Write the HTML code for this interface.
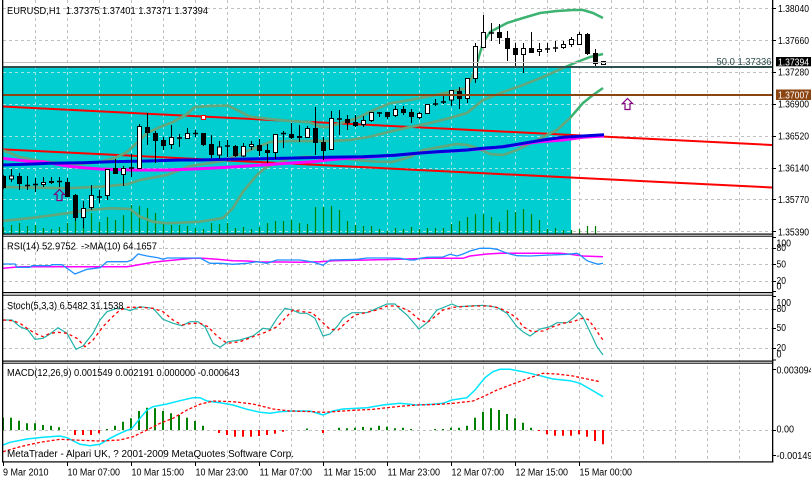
<!DOCTYPE html>
<html><head><meta charset="utf-8"><style>
html,body{margin:0;padding:0;background:#fff;}
svg{display:block;}
text{font-family:"Liberation Sans",Arial,sans-serif;font-size:10px;fill:#000;white-space:pre;}
</style></head><body>
<svg width="811" height="479" viewBox="0 0 811 479" xmlns="http://www.w3.org/2000/svg">
<defs>
<clipPath id="cm"><rect x="3" y="0" width="769" height="233.5"/></clipPath>
<clipPath id="cc"><rect x="3" y="68" width="568" height="165.5"/></clipPath>
</defs>
<rect width="811" height="479" fill="#fff"/>

<!-- vertical grid all panels -->
<path d="M35.5 0V462M67.5 0V462M99.5 0V462M131.5 0V462M163.5 0V462M195.5 0V462M227.5 0V462M259.5 0V462M291.5 0V462M323.5 0V462M355.5 0V462M387.5 0V462M419.5 0V462M451.5 0V462M483.5 0V462M515.5 0V462M547.5 0V462M579.5 0V462M611.5 0V462M643.5 0V462M675.5 0V462M707.5 0V462M739.5 0V462" stroke="#c0c0c0" stroke-dasharray="3 3" fill="none"/>
<path d="M3 8.5H772M3 40.5H772M3 72.5H772M3 104.5H772M3 136.5H772M3 168.5H772M3 199.5H772M3 231.5H772M3 248.5H772M3 264.5H772M3 281.5H772M3 309.5H772M3 328.5H772M3 348.5H772M3 430.5H772" stroke="#c0c0c0" stroke-dasharray="3 3" fill="none"/>

<g clip-path="url(#cm)">
<rect x="3" y="68" width="568" height="166" fill="#00ced1"/>
<g clip-path="url(#cc)">
<path d="M35.5 0V234M67.5 0V234M99.5 0V234M131.5 0V234M163.5 0V234M195.5 0V234M227.5 0V234M259.5 0V234M291.5 0V234M323.5 0V234M355.5 0V234M387.5 0V234M419.5 0V234M451.5 0V234M483.5 0V234M515.5 0V234M547.5 0V234M3 72.5H772M3 104.5H772M3 136.5H772M3 168.5H772M3 199.5H772M3 231.5H772" stroke="#9fe6e6" stroke-dasharray="3 3" fill="none"/>
</g>

<!-- volumes -->
<path d="M3.5 234V227M11.5 234V225M19.5 234V223M27.5 234V226M35.5 234V225M43.5 234V228M51.5 234V229M59.5 234V227M67.5 234V223M75.5 234V220M83.5 234V218M91.5 234V213M99.5 234V222M107.5 234V217M115.5 234V220M123.5 234V215M131.5 234V205M139.5 234V206M147.5 234V208M155.5 234V213M163.5 234V223M171.5 234V225M179.5 234V225M187.5 234V226M195.5 234V228M203.5 234V229M211.5 234V223M219.5 234V224M227.5 234V223M235.5 234V228M243.5 234V227M251.5 234V229M259.5 234V227M267.5 234V223M275.5 234V221M283.5 234V221M291.5 234V220M299.5 234V223M307.5 234V224M315.5 234V207M323.5 234V207M331.5 234V206M339.5 234V210M347.5 234V221M355.5 234V225M363.5 234V226M371.5 234V226M379.5 234V229M387.5 234V231M395.5 234V228M403.5 234V229M411.5 234V227M419.5 234V229M427.5 234V228M435.5 234V228M443.5 234V228M451.5 234V224M459.5 234V221M467.5 234V217M475.5 234V214M483.5 234V214M491.5 234V217M499.5 234V222M507.5 234V210M515.5 234V212M523.5 234V209M531.5 234V214M539.5 234V220M547.5 234V229M555.5 234V228M563.5 234V230M571.5 234V230M579.5 234V229M587.5 234V226M595.5 234V226" stroke="#008000" stroke-width="1.2" fill="none"/>

<!-- red channel lines -->
<path d="M2 106.5L772 145M2 149.3L772 187.5" stroke="#ff0000" stroke-width="2" fill="none"/>

<!-- bollinger bands -->
<g fill="none" stroke-width="2.5" stroke-linejoin="round">
<path d="M2 150L20 157L40 161L60 163L80 164L100 162L115 158L127 152L140 140L147 133L160 127L173 122L187 114L195 107L210 106L228 105.5L237 110L250 116.7L270 119L290 121L310 122.3L320 126.7L327 127.3L340 123.3L357 118.3L370 111.7L390 103.3L410 100L430 96L450 92L467 88L473 75L477 63L483 43L490 32L507 23L523 18L540 13L557 11L573 10L583 10L593 13L603 18" stroke="#3cb371"/>
<path d="M2 187L33 187.5L67 188.3L100 186.7L127 184.3L140 180L167 175L190 166L223 161L250 150L270 142L290 141L330 141L350 140L370 136.7L390 131.7L410 127L430 123L450 118L467 113L483 100L503 92L523 85L543 77L563 68L577 62L590 57L603 54" stroke="#3cb371"/>
<path d="M2 221L33 217.7L67 213.3L90 210L110 208.3L130 209L140 216.7L153 221.7L167 223.3L200 221.7L223 218L233 208L243 191.7L257 175L267 166.7L277 163.3L290 158.3L307 156.7L323 157.7L340 158.3L357 160L377 161.7L392 162L410 157L423 150L457 144L467 145L477 148L490 154L503 155L517 150L537 140L557 130L570 118L583 103L593 95L603 88" stroke="#3cb371"/>
<g clip-path="url(#cc)" stroke="#65a67c">
<path d="M2 150L20 157L40 161L60 163L80 164L100 162L115 158L127 152L140 140L147 133L160 127L173 122L187 114L195 107L210 106L228 105.5L237 110L250 116.7L270 119L290 121L310 122.3L320 126.7L327 127.3L340 123.3L357 118.3L370 111.7L390 103.3L410 100L430 96L450 92L467 88L473 75L477 63L483 43L490 32L507 23L523 18L540 13L557 11L573 10L583 10L593 13L603 18"/>
<path d="M2 187L33 187.5L67 188.3L100 186.7L127 184.3L140 180L167 175L190 166L223 161L250 150L270 142L290 141L330 141L350 140L370 136.7L390 131.7L410 127L430 123L450 118L467 113L483 100L503 92L523 85L543 77L563 68L577 62L590 57L603 54"/>
<path d="M2 221L33 217.7L67 213.3L90 210L110 208.3L130 209L140 216.7L153 221.7L167 223.3L200 221.7L223 218L233 208L243 191.7L257 175L267 166.7L277 163.3L290 158.3L307 156.7L323 157.7L340 158.3L357 160L377 161.7L392 162L410 157L423 150L457 144L467 145L477 148L490 154L503 155L517 150L537 140L557 130L570 118L583 103L593 95L603 88"/>
</g>
</g>

<!-- moving averages -->
<path d="M2 158.3L17 160L33 161.7L43 161.7L67 166L83 167.7L100 169L133 170L167 170L187 169.3L200 168.7L228 167.3L262 165L295 162.7L312 161.7L328 160L338 159L362 157.5L395 155.3L423 152.7L457 150.7L490 148.3L523 144L540 141.7L563 140L583 137.3L604 136" stroke="#ff00ff" stroke-width="3" fill="none"/>
<path d="M2 165L33 164L50 163.3L83 162.7L110 161.7L147 161L180 160L200 160L228 159.3L262 158.7L295 158L328 157.3L362 156.7L395 155.3L417 153.3L437 151.7L467 150L483 148.3L503 146.7L523 143.3L543 140L563 137.3L583 136L604 134.7" stroke="#0000dd" stroke-width="3" fill="none"/>

<!-- candles wicks -->
<path d="M3.5 175V189M11.5 169V182M19.5 173V190M27.5 176V190M35.5 178V192M43.5 177V187M51.5 177V184M59.5 177V187M67.5 178V197M75.5 194V221M83.5 201V228M91.5 185V210M99.5 190V203M107.5 169V200M115.5 159V174M123.5 166V186M131.5 154V177M139.5 124V168M147.5 113V145M155.5 131V163M163.5 137V150M171.5 125V149M179.5 134V147M187.5 128V139M195.5 130V137M203.5 133V146M211.5 135V158M219.5 141V159M227.5 140V157M235.5 145V157M243.5 143V157M251.5 141V150M259.5 139V156M267.5 144V163M275.5 134V159M283.5 131V148M291.5 123V139M299.5 125V142M307.5 126V137M315.5 107V155M323.5 137V160M331.5 111V149M339.5 110V135M347.5 115V130M355.5 115V127M363.5 116V127M371.5 112V122M379.5 112V117M387.5 112V119M395.5 106V117M403.5 106V115M411.5 109V123M419.5 112V119M427.5 104V114M435.5 99V106M443.5 96V104M451.5 90V106M459.5 87V109M467.5 78V103M475.5 43V83M483.5 15V48M491.5 23V41M499.5 24V44M507.5 31V61M515.5 43V67M523.5 43V73M531.5 32V53M539.5 43V56M547.5 43V53M555.5 41V52M563.5 41V49M571.5 37V47M579.5 32V44M587.5 33V55M595.5 49V66" stroke="#000" stroke-width="1" fill="none"/>
<path d="M25 185.5h5M33 184.5h5M57 181.5h5M97 197h5M129 168h5M177 138h5M193 133.5h5M225 146h5M281 133.5h5M337 119h5M377 113h5M433 104h5M441 102h5M489 33h5M545 49h5M553 48h5" stroke="#000" stroke-width="1.6" fill="none"/>
<g fill="#000">
<rect x="1" y="176" width="5" height="12"/>
<rect x="17" y="176" width="5" height="8"/>
<rect x="49" y="181" width="5" height="2"/>
<rect x="65" y="182" width="5" height="15"/>
<rect x="73" y="195" width="5" height="23"/>
<rect x="113" y="168" width="5" height="6"/>
<rect x="145" y="127" width="5" height="6"/>
<rect x="153" y="133" width="5" height="8"/>
<rect x="161" y="140" width="5" height="6"/>
<rect x="201" y="133" width="5" height="12"/>
<rect x="209" y="144" width="5" height="11"/>
<rect x="233" y="146" width="5" height="10"/>
<rect x="257" y="145" width="5" height="6"/>
<rect x="265" y="150" width="5" height="3"/>
<rect x="289" y="134" width="5" height="4"/>
<rect x="297" y="136" width="5" height="2"/>
<rect x="313" y="128" width="5" height="15"/>
<rect x="321" y="142" width="5" height="9"/>
<rect x="345" y="119" width="5" height="4"/>
<rect x="353" y="122" width="5" height="4"/>
<rect x="385" y="112" width="5" height="5"/>
<rect x="401" y="109" width="5" height="4"/>
<rect x="409" y="112" width="5" height="5"/>
<rect x="457" y="91" width="5" height="8"/>
<rect x="497" y="32" width="5" height="6"/>
<rect x="505" y="38" width="5" height="11"/>
<rect x="513" y="48" width="5" height="7"/>
<rect x="529" y="48" width="5" height="5"/>
<rect x="585" y="34" width="5" height="20"/>
<rect x="593" y="53" width="5" height="11"/>
</g>
<g fill="#fff" stroke="#000" stroke-width="1">
<rect x="9.5" y="176" width="4" height="3"/>
<rect x="41.5" y="182.5" width="4" height="2"/>
<rect x="81.5" y="208.5" width="4" height="9"/>
<rect x="89.5" y="195.5" width="4" height="12"/>
<rect x="105.5" y="169.5" width="4" height="26"/>
<rect x="121.5" y="168.5" width="4" height="6"/>
<rect x="137.5" y="126.5" width="4" height="42"/>
<rect x="169.5" y="137.5" width="4" height="7"/>
<rect x="185.5" y="133.5" width="4" height="5"/>
<rect x="217.5" y="147" width="4" height="8"/>
<rect x="241.5" y="146.5" width="4" height="9.5"/>
<rect x="249.5" y="144.5" width="4" height="2"/>
<rect x="273.5" y="134.5" width="4" height="18"/>
<rect x="305.5" y="128.5" width="4" height="9"/>
<rect x="329.5" y="118.5" width="4" height="31"/>
<rect x="361.5" y="120.5" width="4" height="4"/>
<rect x="369.5" y="112.5" width="4" height="8"/>
<rect x="393.5" y="109.5" width="4" height="6"/>
<rect x="417.5" y="113.5" width="4" height="4"/>
<rect x="425.5" y="104.5" width="4" height="9"/>
<rect x="449.5" y="90.5" width="4" height="9.5"/>
<rect x="465.5" y="78.5" width="4" height="20"/>
<rect x="473.5" y="46.5" width="4" height="32"/>
<rect x="481.5" y="32.5" width="4" height="15"/>
<rect x="521.5" y="48.5" width="4" height="6"/>
<rect x="537.5" y="49.5" width="4" height="2"/>
<rect x="561.5" y="44.5" width="4" height="3"/>
<rect x="569.5" y="39.5" width="4" height="5"/>
<rect x="577.5" y="34.5" width="4" height="10"/>
<rect x="601.5" y="61.5" width="4" height="3"/>
</g>

<!-- horizontal lines -->
<path d="M3 62.5H772" stroke="#c0c0c0" stroke-width="1"/>
<path d="M3 67H772" stroke="#2f4f4f" stroke-width="2"/>
<path d="M3 95H772" stroke="#8b4513" stroke-width="2"/>
<rect x="201.5" y="115.5" width="4" height="4" fill="#fff" stroke="#ff0000" stroke-width="1"/>
<polygon points="59.5,189.5 64.5,194.5 62,194.5 62,200.5 57,200.5 57,194.5 54.5,194.5" fill="none" stroke="#800080" stroke-width="1.2"/>
<polygon points="627.5,98.5 632.5,103.5 630,103.5 630,109.5 625,109.5 625,103.5 622.5,103.5" fill="none" stroke="#800080" stroke-width="1.2"/>
<text x="716.5" y="65" textLength="55" lengthAdjust="spacingAndGlyphs" style="fill:#2f4f4f">50.0 1.37336</text>
</g>

<!-- RSI -->
<path d="M3 268.3L20 266.7L127 266.7L133 265.7L153 262.3L167 260.7L193 258.3L203 258.3L217 259.3L233 260.7L247 261L260 262L283 262L300 262.3L320 261.7L333 260.7L367 260L400 259.3L430 258.3L463 258.3L470 256L487 254L500 253.3L560 253.3L570 254.3L583 256L603 256.7" stroke="#ff00ff" stroke-width="1.5" fill="none"/>
<path d="M3 264L15 264L17 267.3L30 267.3L32 265.7L50 265.7L52 264.7L62 264.7L75 274L87 269.3L100 267.7L107 261.7L127 261.7L132 260L138 254L147 256L158 257.7L163 259.3L167 258L200 258L210 263.3L220 263.3L233 264.3L247 263.3L257 261.7L267 263.3L277 260L300 260L313 262L323 265.3L330 260L357 259.3L367 258L390 258L400 258.3L410 260L415 260L420 258.3L427 257.3L443 257L450 254.3L457 256L463 254L470 251L480 248.3L490 248.3L497 249.3L503 251.7L510 254L517 255.7L530 256L550 255L567 254.3L577 253.3L580 255L587 260.7L593 262.7L598 264.3L603 263.3" stroke="#1e90ff" stroke-width="1.3" fill="none"/>

<!-- Stoch -->
<path d="M3 320L12 320L20 326.7L28 330L35 339.3L43 338.3L50 334L58 327.7L67 333.3L76 349.3L83 346L93 333.3L100 320L107 311.7L117 308.3L123 308.3L130 310.7L140 306.7L153 308.3L163 319.3L173 323.3L182 325.7L190 321.7L198 321.7L205 326.7L213 343.3L220 347.3L228 341.7L240 340L253 336L263 328.3L270 329.3L277 318.3L285 308.3L292 310L300 313.3L307 313.3L315 318.3L323 336L330 334L337 326.7L343 318.3L352 312.7L367 312.7L377 308.3L387 304L395 304L400 309L407 315L419 329L427 322.7L437 310L443 307.7L452 304L458 306.7L470 306L483 305.3L497 307.3L507 313.3L517 326.7L523 331.7L530 336L540 329L550 326.7L557 322.7L567 322.7L573 318.3L579 312.7L583 317.3L590 331.7L597 346.7L603 355" stroke="#20b2aa" stroke-width="1.2" fill="none"/>
<path d="M3 320L13 320.7L20 323.3L27 328.3L35 333.3L43 336.7L50 333.3L58 332.3L67 333.3L77 338.3L85 346.7L93 340L103 326.7L112 317.3L120 310L128 307.3L140 307.3L153 308.3L163 311.7L173 320L182 325L192 323.3L200 323.3L208 326.7L217 336L227 343.3L240 341.7L253 336.7L267 331.7L277 326.7L285 318.3L293 310L303 311.7L312 312.7L320 320L330 329.3L338 330L347 321.7L355 315L363 313.3L377 310L387 306L395 306L400 306.7L410 311.7L419 319.3L427 322.7L437 315L443 310L453 307.3L473 306L490 306L500 308.3L510 313.3L517 318.3L523 326.7L532 331.7L543 331L553 326.7L563 323.3L573 321.7L582 318.3L588 319.3L595 328.3L600 336L603 340" stroke="#ff0000" stroke-width="1.3" stroke-dasharray="3 3" fill="none"/>

<!-- MACD -->
<path d="M3 430V417.7M11 430V417.7M19 430V420.7M27 430V423.3M35 430V423.3M43 430V425M51 430V425.7M59 430V427.3M107 430V429M115 430V425.7M123 430V421.7M131 430V418.3M139 430V411M147 430V407.7M155 430V408.3M163 430V411M171 430V413.3M179 430V415M187 430V417.7M195 430V421M203 430V425.7M307 430V428.5M339 430V427.7M347 430V428.3M355 430V427.7M363 430V427M371 430V427.7M379 430V425.7M387 430V426.7M395 430V428.3M403 430V427.7M411 430V429M435 430V429M443 430V429M451 430V427.7M459 430V427.7M467 430V425.7M475 430V417.7M483 430V411.7M491 430V408.3M499 430V410M507 430V414M515 430V418.3M523 430V422.7M531 430V427.7" stroke="#008000" stroke-width="2" fill="none"/>
<path d="M75 430V435M83 430V435M91 430V435M99 430V433.3M219 430V433M227 430V435M235 430V436.7M243 430V436.7M251 430V436.7M259 430V436M267 430V435M275 430V433.7M283 430V431.7M323 430V433M539 430V431M547 430V434.3M555 430V435.7M563 430V435.7M571 430V435.7M579 430V434.3M587 430V436.7M595 430V441M603 430V444.3" stroke="#ff0000" stroke-width="2" fill="none"/>
<path d="M3 445L10 442.3L27 439L43 437.3L60 436L67 437.7L80 444.3L90 445.7L100 444.3L110 438.3L120 433.3L132 428.3L140 418.3L147 410L153 406.7L167 404L180 400.7L193 397.7L200 397.7L207 401L220 402.7L233 405L247 409.3L260 412.3L270 413.3L280 411.7L293 411L310 411L323 415L333 411L343 409L367 407.7L383 405L400 403.3L417 405L433 404.3L443 403.3L452 400L467 397.7L475 390L485 377.7L493 371.7L500 369.3L510 369.3L523 371.7L540 375.7L553 379L570 380.7L580 383.3L590 389L603 396.7" stroke="#00e5ff" stroke-width="1.5" fill="none"/>
<path d="M3 451.7L20 446.7L40 442.3L60 439.3L80 440.3L100 441L120 440L133 436.7L147 430L160 423.3L173 418.3L187 410L200 404.3L213 401L233 401.7L253 404L273 409L290 411L313 411.7L323 412.3L333 411.7L353 410.3L373 409.3L400 406.3L417 405L440 404.3L453 403.3L473 401L483 396.7L497 390L513 384L530 377.7L543 373.3L557 374L573 376L587 379L600 381.7" stroke="#ff0000" stroke-width="1.3" stroke-dasharray="3 2" fill="none"/>

<!-- panel gaps & borders -->
<rect x="2" y="234.5" width="772" height="1.2" fill="#fff"/>
<rect x="2" y="293.2" width="772" height="1.5" fill="#fff"/>
<rect x="2" y="361.7" width="772" height="1" fill="#fff"/>
<g fill="#000">
<rect x="2" y="0" width="1.3" height="462.5"/>
<rect x="772" y="0" width="1.3" height="462.5"/>
<rect x="2" y="233.5" width="771.3" height="1.2"/>
<rect x="2" y="235.7" width="771.3" height="1"/>
<rect x="2" y="292" width="771.3" height="1.2"/>
<rect x="2" y="294.7" width="771.3" height="1"/>
<rect x="2" y="360.5" width="771.3" height="1.2"/>
<rect x="2" y="362.7" width="771.3" height="1"/>
<rect x="2" y="461.3" width="771.3" height="1.2"/>
</g>

<!-- right axis ticks -->
<path d="M773 8.5h3M773 40.5h3M773 72.5h3M773 104.5h3M773 136.5h3M773 168.5h3M773 199.5h3M773 231.5h3M773 237.5h3M773 248.5h3M773 264.5h3M773 281.5h3M773 291.5h3M773 296.5h3M773 309.5h3M773 328.5h3M773 348.5h3M773 360h3M773 369.5h3M773 430.5h3M773 455.5h3" stroke="#000" fill="none"/>
<!-- bottom ticks -->
<path d="M3.5 462V466M67.5 462V466M131.5 462V466M195.5 462V466M259.5 462V466M323.5 462V466M387.5 462V466M451.5 462V466M515.5 462V466M579.5 462V466" stroke="#000" fill="none"/>

<!-- price labels -->
<text x="778" y="12" textLength="31" lengthAdjust="spacingAndGlyphs">1.38040</text>
<text x="778" y="44" textLength="31" lengthAdjust="spacingAndGlyphs">1.37660</text>
<text x="778" y="75.5" textLength="31" lengthAdjust="spacingAndGlyphs">1.37280</text>
<text x="778" y="107.7" textLength="31" lengthAdjust="spacingAndGlyphs">1.36900</text>
<text x="778" y="139.5" textLength="31" lengthAdjust="spacingAndGlyphs">1.36520</text>
<text x="778" y="171.5" textLength="31" lengthAdjust="spacingAndGlyphs">1.36140</text>
<text x="778" y="203" textLength="31" lengthAdjust="spacingAndGlyphs">1.35770</text>
<text x="778" y="235.5" textLength="31" lengthAdjust="spacingAndGlyphs">1.35390</text>
<rect x="776" y="57" width="35" height="9.3" fill="#000"/>
<text x="778" y="65.5" textLength="31" lengthAdjust="spacingAndGlyphs" style="fill:#fff">1.37394</text>
<rect x="776" y="89.5" width="35" height="10.5" fill="#8b4513"/>
<text x="778" y="98.7" textLength="31" lengthAdjust="spacingAndGlyphs" style="fill:#fff">1.37007</text>

<!-- RSI labels -->
<text x="776.5" y="246.5" textLength="14.5" lengthAdjust="spacingAndGlyphs">100</text>
<text x="776.5" y="251" textLength="9.5" lengthAdjust="spacingAndGlyphs">80</text>
<text x="776.5" y="267.5" textLength="9.5" lengthAdjust="spacingAndGlyphs">50</text>
<text x="776.5" y="284" textLength="9.5" lengthAdjust="spacingAndGlyphs">20</text>
<text x="776.5" y="289.5" textLength="5" lengthAdjust="spacingAndGlyphs">0</text>
<!-- Stoch labels -->
<text x="776.5" y="306" textLength="14.5" lengthAdjust="spacingAndGlyphs">100</text>
<text x="776.5" y="312" textLength="9.5" lengthAdjust="spacingAndGlyphs">80</text>
<text x="776.5" y="331" textLength="9.5" lengthAdjust="spacingAndGlyphs">50</text>
<text x="776.5" y="351" textLength="9.5" lengthAdjust="spacingAndGlyphs">20</text>
<text x="776.5" y="357.5" textLength="5" lengthAdjust="spacingAndGlyphs">0</text>
<!-- MACD labels -->
<text x="776.5" y="373.5" textLength="37" lengthAdjust="spacingAndGlyphs">0.003094</text>
<text x="776.5" y="432.5" textLength="17.5" lengthAdjust="spacingAndGlyphs">0.00</text>
<text x="776.5" y="459" textLength="36" lengthAdjust="spacingAndGlyphs">-0.00149</text>

<!-- titles -->
<text x="7" y="14" textLength="201" lengthAdjust="spacingAndGlyphs">EURUSD,H1  1.37375 1.37401 1.37371 1.37394</text>
<text x="7" y="249.5" textLength="150" lengthAdjust="spacingAndGlyphs">RSI(14) 52.9752  -&gt;MA(10) 64.1657</text>
<text x="7" y="309" textLength="116.5" lengthAdjust="spacingAndGlyphs">Stoch(5,3,3) 6.5482 31.1538</text>
<text x="7" y="376" textLength="232.5" lengthAdjust="spacingAndGlyphs">MACD(12,26,9) 0.001549 0.002191 0.000000 -0.000643</text>
<text x="7" y="457" textLength="287" lengthAdjust="spacingAndGlyphs">MetaTrader - Alpari UK, ? 2001-2009 MetaQuotes Software Corp.</text>

<!-- time labels -->
<text x="3" y="475.5" textLength="45.5" lengthAdjust="spacingAndGlyphs">9 Mar 2010</text>
<text x="67.5" y="475.5" textLength="52.5" lengthAdjust="spacingAndGlyphs">10 Mar 07:00</text>
<text x="131.5" y="475.5" textLength="52.5" lengthAdjust="spacingAndGlyphs">10 Mar 15:00</text>
<text x="195.5" y="475.5" textLength="52.5" lengthAdjust="spacingAndGlyphs">10 Mar 23:00</text>
<text x="259.5" y="475.5" textLength="52.5" lengthAdjust="spacingAndGlyphs">11 Mar 07:00</text>
<text x="323.5" y="475.5" textLength="52.5" lengthAdjust="spacingAndGlyphs">11 Mar 15:00</text>
<text x="387.5" y="475.5" textLength="52.5" lengthAdjust="spacingAndGlyphs">11 Mar 23:00</text>
<text x="451.5" y="475.5" textLength="52.5" lengthAdjust="spacingAndGlyphs">12 Mar 07:00</text>
<text x="515.5" y="475.5" textLength="52.5" lengthAdjust="spacingAndGlyphs">12 Mar 15:00</text>
<text x="579.5" y="475.5" textLength="52.5" lengthAdjust="spacingAndGlyphs">15 Mar 00:00</text>
</svg>
</body></html>
